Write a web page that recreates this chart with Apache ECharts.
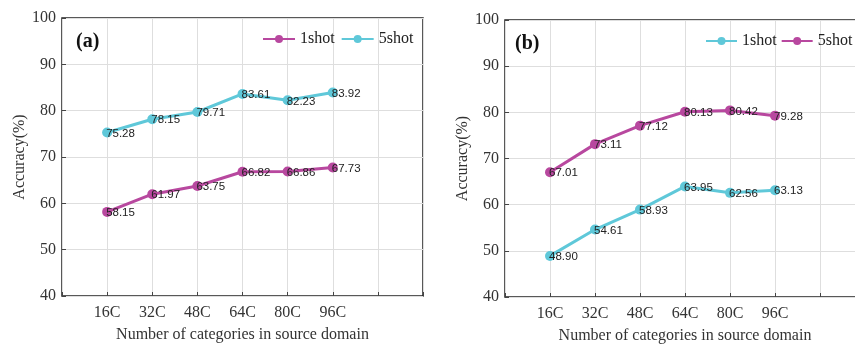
<!DOCTYPE html>
<html>
<head>
<meta charset="utf-8">
<script src="https://cdn.jsdelivr.net/npm/echarts@6/dist/echarts.min.js"></script>
<style>
html, body { margin: 0; padding: 0; background: #fff; }
#main { width: 855px; height: 344px; }
</style>
</head>
<body>
<div id="main"></div>
<script>
// categories on the x axis (positions 1..6 of a 0..8 axis)
var categories = ['16C', '32C', '48C', '64C', '80C', '96C'];
var yTicks = [40, 50, 60, 70, 80, 90, 100];

// panel (a)
var a1shot = [58.15, 61.97, 63.75, 66.82, 66.86, 67.73];
var a5shot = [75.28, 78.15, 79.71, 83.61, 82.23, 83.92];
// panel (b)
var b1shot = [48.90, 54.61, 58.93, 63.95, 62.56, 63.13];
var b5shot = [67.01, 73.11, 77.12, 80.13, 80.42, 79.28];

var MAGENTA = '#b8489f';
var CYAN = '#5fc8d9';
var SERIF = 'Liberation Serif';

var chartDom = document.getElementById('main');
var myChart = echarts.init(chartDom);

function toPoints(vals) {
	return vals.map(function (v, i) { return [i + 1, v]; });
}

function xAxisFor(gridIndex) {
	return {
		type: 'value',
		gridIndex: gridIndex,
		min: 0,
		max: 8,
		interval: 1,
		name: 'Number of categories in source domain',
		nameLocation: 'middle',
		nameGap: 31,
		nameTextStyle: { fontFamily: SERIF, fontSize: 16, color: '#333' },
		axisLine: { show: false },
		axisTick: { show: true, inside: true, length: 4, lineStyle: { color: '#444' } },
		axisLabel: {
			fontFamily: SERIF, fontSize: 16, color: '#333', margin: 9,
			formatter: function (v) { return categories[v - 1] || ''; }
		},
		splitLine: { show: true, lineStyle: { color: '#dedede', width: 1 } }
	};
}

function yAxisFor(gridIndex) {
	return {
		type: 'value',
		gridIndex: gridIndex,
		min: yTicks[0],
		max: yTicks[yTicks.length - 1],
		interval: 10,
		name: 'Accuracy(%)',
		nameLocation: 'middle',
		nameGap: 34,
		nameTextStyle: { fontFamily: SERIF, fontSize: 16, color: '#333' },
		axisLine: { show: false },
		axisTick: { show: true, inside: true, length: 4, lineStyle: { color: '#444' } },
		axisLabel: { fontFamily: SERIF, fontSize: 16, color: '#333', margin: 6 },
		splitLine: { show: true, lineStyle: { color: '#dedede', width: 1 } }
	};
}

function lineSeries(name, vals, color, idx) {
	return {
		type: 'line',
		name: name,
		xAxisIndex: idx,
		yAxisIndex: idx,
		data: toPoints(vals),
		symbol: 'circle',
		symbolSize: 10,
		lineStyle: { color: color, width: 3 },
		itemStyle: { color: color },
		label: {
			show: true,
			position: 'right',
			distance: -6,
			offset: [0, 1],
			fontFamily: 'Liberation Sans',
			fontSize: 11.5,
			color: '#222',
			formatter: function (p) { return p.value[1].toFixed(2); }
		},
		z: 3
	};
}

var option = {
	animation: false,
	grid: [
		{ left: 62, top: 18, width: 361, bottom: 48, outerBoundsMode: 'none', show: true, borderColor: '#222', borderWidth: 1.5, backgroundColor: 'transparent' },
		{ left: 505, top: 20, width: 360, bottom: 47, outerBoundsMode: 'none', show: true, borderColor: '#222', borderWidth: 1.5, backgroundColor: 'transparent' }
	],
	title: [
		{ text: '(a)', left: 71, top: 27, textStyle: { fontFamily: SERIF, fontSize: 20, fontWeight: 'bold', color: '#111' } },
		{ text: '(b)', left: 510, top: 29, textStyle: { fontFamily: SERIF, fontSize: 20, fontWeight: 'bold', color: '#111' } }
	],
	legend: [
		{
			data: ['1shot', '5shot'],
			left: 262, top: 31, padding: 0,
			itemWidth: 32, itemHeight: 10, itemGap: 6,
			textStyle: { fontFamily: SERIF, fontSize: 16, color: '#222' }
		},
		{
			data: ['1shot ', '5shot '],
			left: 705, top: 33, padding: 0,
			itemWidth: 31, itemHeight: 10, itemGap: 4,
			formatter: function (n) { return n.trim(); },
			textStyle: { fontFamily: SERIF, fontSize: 16, color: '#222' }
		}
	],
	xAxis: [xAxisFor(0), xAxisFor(1)],
	yAxis: [yAxisFor(0), yAxisFor(1)],
	series: [
		lineSeries('1shot', a1shot, MAGENTA, 0),
		lineSeries('5shot', a5shot, CYAN, 0),
		lineSeries('1shot ', b1shot, CYAN, 1),
		lineSeries('5shot ', b5shot, MAGENTA, 1)
	]
};

option && myChart.setOption(option);
window.addEventListener('resize', function () {
	myChart.resize();
});
</script>
</body>
</html>
